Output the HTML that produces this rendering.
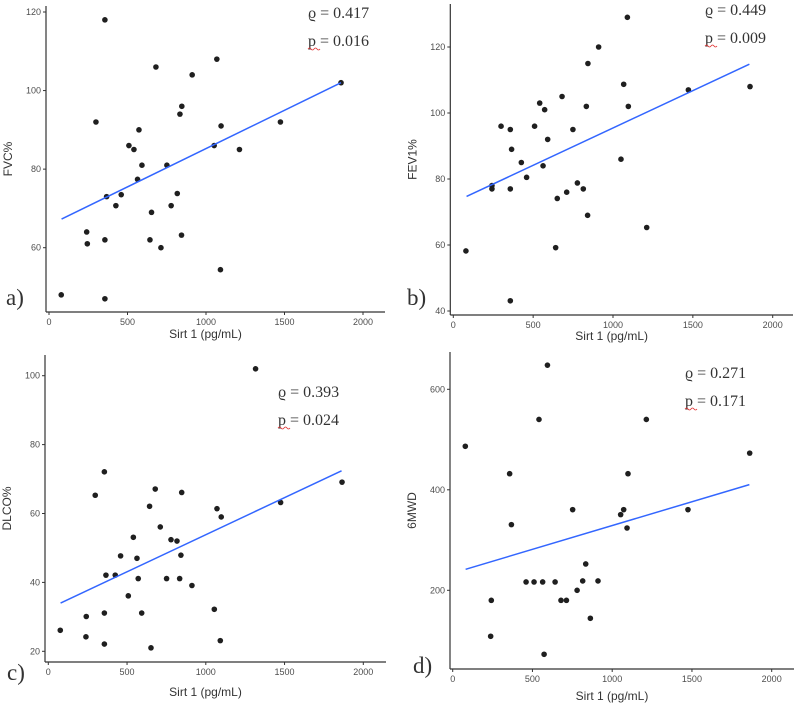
<!DOCTYPE html>
<html><head><meta charset="utf-8"><style>
html,body{margin:0;padding:0;background:#fff;}
svg{display:block;font-family:"Liberation Sans",sans-serif;}
.tick{font-size:9px;fill:#4d4d4d;}
.ttl{font-size:12px;fill:#333;}
.stat{font-family:"Liberation Serif",serif;font-size:16px;fill:#333;}
.lab{font-family:"Liberation Serif",serif;font-size:23px;fill:#333;}
</style></head><body>
<svg id="chart" width="798" height="707" viewBox="0 0 798 707"></svg>
<script>
// Shared x tick values
const xTicks = [0, 500, 1000, 1500, 2000];

// Panel a: FVC%
const aX = [78,356,681,1069,912,1860,299,846,834,1474,1096,573,509,541,1052,1213,592,751,564,367,460,817,426,778,653,240,244,356,643,844,713,1092,356];
const aY = [48,118,106,108,104,102,92,96,94,92,91,90,86,85,86,85,81,81,77.4,73,73.5,73.8,70.7,70.7,69,64,61,62,62,63.2,60,54.4,47];
const aTicks = [60,80,100,120];
const aFit = [[80,67.3],[1860,102]];

// Panel b: FEV1%
const bX = [79,357,1090,910,843,1067,1472,1858,541,681,572,833,1096,299,357,509,749,591,365,426,562,459,1050,242,242,357,777,814,710,651,841,1211,641];
const bY = [58.2,43.1,129,120,115,108.7,107,108,103,105,101,102,102,96,95,96,95,92,89,85,84,80.5,86,78,77,77,78.8,77,76,74.1,69,65.3,59.2];
const bTicks = [40,60,80,100,120];
const bFit = [[83,74.7],[1854,114.8]];

// Panel c: DLCO%
const cX = [76,1316,356,298,679,847,643,1071,1098,711,540,779,817,459,563,842,366,425,571,751,834,912,508,1054,241,356,593,239,356,652,1092,1865,1475];
const cY = [26.1,102,72.1,65.3,67.1,66.1,62.1,61.4,59,56.1,53.1,52.4,52,47.7,47,47.9,42.1,42.1,41.1,41.1,41.1,39.1,36.1,32.2,30.1,31.1,31.1,24.2,22.1,21,23.1,69.1,63.2];
const cTicks = [20,40,60,80,100];
const cFit = [[78,34],[1862,72.4]];

// Panel d: 6MWD
const dX = [79,594,541,1214,1862,357,1099,752,1072,1053,1475,1093,368,834,460,510,564,642,815,911,780,679,713,242,863,238,573];
const dY = [486.6,648,540,540,473,432,432,360.5,360.5,350.6,360.5,324,330.7,252.4,216.6,216.6,216.6,216.6,218.6,218.6,200,180,180,180,144.3,108.5,72.7];
const dTicks = [200,400,600];
const dFit = [[81,241.8],[1860,410.3]];

const NS = "http://www.w3.org/2000/svg";
const svg = document.getElementById('chart');
function mk(tag, attrs, parent){const e=document.createElementNS(NS,tag);for(const k in attrs)e.setAttribute(k,attrs[k]);(parent||svg).appendChild(e);return e;}

// layout (not data)
const panels = [
 {id:'a',xs:aX,ys:aY,yt:aTicks,fit:aFit,ytitle:'FVC%',x0px:49,x2000px:363,axL:46,axR:385,axT:6,axB:312,yv1:60,yp1:247.7,yv2:120,yp2:12,label:'a)',lx:6,ly:305,sx:308,sy:18,rho:'ϱ = 0.417',p:'p = 0.016',tty:338},
 {id:'b',xs:bX,ys:bY,yt:bTicks,fit:bFit,ytitle:'FEV1%',x0px:453.3,x2000px:772.7,axL:450.3,axR:793,axT:4,axB:315,yv1:40,yp1:311,yv2:120,yp2:47,label:'b)',lx:407,ly:305,sx:705,sy:15,rho:'ϱ = 0.449',p:'p = 0.009',tty:340},
 {id:'c',xs:cX,ys:cY,yt:cTicks,fit:cFit,ytitle:'DLCO%',x0px:48.3,x2000px:363.3,axL:45,axR:386,axT:355,axB:662,yv1:20,yp1:651.3,yv2:100,yp2:375.7,label:'c)',lx:7,ly:680,sx:278,sy:397,rho:'ϱ = 0.393',p:'p = 0.024',tty:696},
 {id:'d',xs:dX,ys:dY,yt:dTicks,fit:dFit,ytitle:'6MWD',x0px:452.7,x2000px:771.7,axL:450,axR:794,axT:352,axB:669,yv1:200,yp1:590.3,yv2:600,yp2:389.3,label:'d)',lx:413,ly:673,sx:685,sy:378,rho:'ϱ = 0.271',p:'p = 0.171',tty:700}
];

panels.forEach(P=>{
  const g = mk('g',{});
  
  
  const xs = v => P.x0px + (P.x2000px-P.x0px)*v/2000;
  const ys = v => P.yp1 + (P.yp2-P.yp1)*(v-P.yv1)/(P.yv2-P.yv1);
  const ya = mk('line',{x1:P.axL,y1:P.axT,x2:P.axL,y2:P.axB,stroke:'#333','stroke-width':1.2},g);
  
  
  const xa = mk('line',{x1:P.axL,y1:P.axB,x2:P.axR,y2:P.axB,stroke:'#333','stroke-width':1.2},g);
  
  
  xTicks.forEach(t=>{
    const x=xs(t);
    mk('line',{x1:x,y1:P.axB,x2:x,y2:P.axB+3,stroke:'#333','stroke-width':1},g);
    const tx=mk('text',{x:x,y:P.axB+13,'text-anchor':'middle',class:'tick'},g);
    tx.textContent=t;
    
    
  });
  P.yt.forEach(t=>{
    const y=ys(t);
    mk('line',{x1:P.axL-3,y1:y,x2:P.axL,y2:y,stroke:'#333','stroke-width':1},g);
    const tx=mk('text',{x:P.axL-5,y:y+3,'text-anchor':'end',class:'tick'},g);
    tx.textContent=t;
    
    
  });
  const cy=(P.axT+P.axB)/2;
  const yt=mk('text',{x:0,y:0,transform:`translate(${P.axL-34},${cy}) rotate(-90)`,'text-anchor':'middle',class:'ttl'},g);
  yt.textContent=P.ytitle;
  
  
  const xt=mk('text',{x:(P.axL+P.axR)/2-10,y:P.tty,'text-anchor':'middle',class:'ttl'},g);
  xt.textContent='Sirt 1 (pg/mL)';
  
  
  P.xs.forEach((v,i)=>{
    const c=mk('circle',{cx:xs(v),cy:ys(P.ys[i]),r:2.8,fill:'#1f1f1f'},g);
    
    
  });
  const fl=mk('line',{x1:xs(P.fit[0][0]),y1:ys(P.fit[0][1]),x2:xs(P.fit[1][0]),y2:ys(P.fit[1][1]),stroke:'#3366ff','stroke-width':1.5},g);
  
  
  const s1=mk('text',{x:P.sx,y:P.sy,class:'stat'},g);
  s1.textContent=P.rho;
  
  
  const s2=mk('text',{x:P.sx,y:P.sy+28,class:'stat'},g);
  s2.textContent=P.p;
  
  
  const sq=mk('path',{d:`M${P.sx} ${P.sy+31} q1.5 -2 3 0 t3 0 t3 0 t3 0`,stroke:'#e03030','stroke-width':0.8,fill:'none'},g);
  
  
  const lb=mk('text',{x:P.lx,y:P.ly,class:'lab'},g);
  lb.textContent=P.label;
  
  
});
</script>
</body></html>
